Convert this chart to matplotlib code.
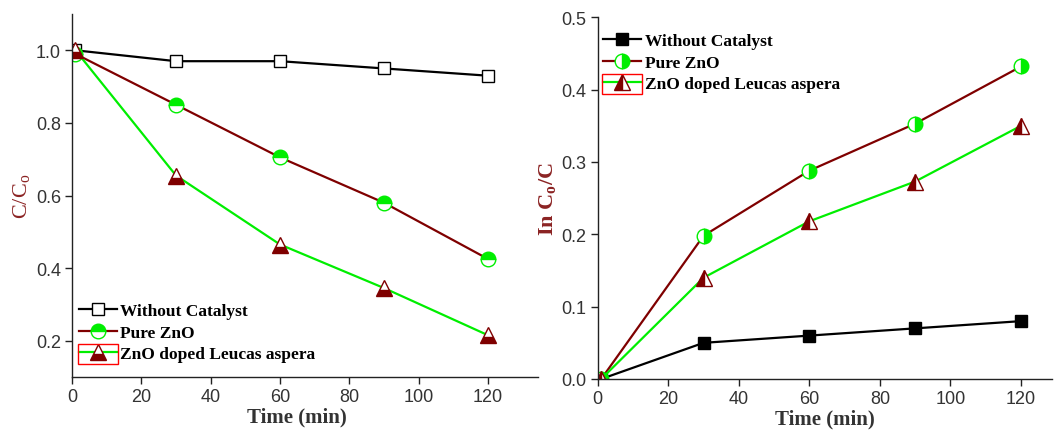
import matplotlib
matplotlib.use('Agg')
import matplotlib.pyplot as plt
import numpy as np
from matplotlib.patches import Rectangle

# time axis (min)
time = [1, 30, 60, 90, 120]

# C/C0
cc0_none = [1.0, 0.97, 0.97, 0.95, 0.93]
cc0_pure = [0.99, 0.85, 0.705, 0.58, 0.425]
cc0_doped = [1.0, 0.655, 0.465, 0.345, 0.215]

# ln C0/C
ln_none = [0.0, 0.05, 0.06, 0.07, 0.08]
ln_pure = [0.0, 0.198, 0.288, 0.353, 0.432]
ln_doped = [0.0, 0.14, 0.218, 0.273, 0.35]

labels = ['Without Catalyst', 'Pure ZnO', 'ZnO doped Leucas aspera']

DARKRED = '#7f0000'
GREEN = '#00ee00'
LABELRED = '#8b2323'
TXT = '#333333'

W, H = 1064, 431
fig = plt.figure(figsize=(W / 100, H / 100), dpi=100)

LEGEND_PROP = {'family': 'Liberation Serif', 'weight': 'bold', 'size': 12.5}


def style_axes(ax):
  for side in ('top', 'right'):
    ax.spines[side].set_visible(False)
  for side in ('left', 'bottom'):
    ax.spines[side].set_color('#222222')
    ax.spines[side].set_linewidth(1)
  ax.tick_params(direction='out', length=5, width=1, colors='#222222',
                 labelsize=13, labelcolor=TXT, pad=3)
  for lab in ax.get_xticklabels() + ax.get_yticklabels():
    lab.set_family('Liberation Sans')
  ax.set_xlabel('Time (min)', family='Liberation Serif', fontweight='bold',
                fontsize=15, color=TXT, labelpad=1)


# left panel (its x axis runs on a little past the plot area)
ax1 = fig.add_axes([72 / W, 1 - 378 / H, 466 / W, 363 / H])
ax1.plot(time, cc0_none, color='black', lw=1.6, marker='s', ms=9,
         mfc='white', mec='black', mew=1, label=labels[0])
ax1.plot(time, cc0_pure, color=DARKRED, lw=1.6, marker='o', ms=10.5,
         fillstyle='top', mfc=GREEN, mfcalt='white', mec=GREEN, mew=1,
         label=labels[1])
ax1.plot(time, cc0_doped, color=GREEN, lw=1.6, marker='^', ms=12,
         fillstyle='bottom', mfc=DARKRED, mfcalt='white', mec=DARKRED, mew=1,
         label=labels[2])
ax1.set_xlim(0, 134.4)
ax1.set_ylim(0.1, 1.1)
ax1.set_xticks([0, 20, 40, 60, 80, 100, 120])
ax1.set_yticks([0.2, 0.4, 0.6, 0.8, 1.0])
ax1.set_yticklabels(['0.2', '0.4', '0.6', '0.8', '1.0'])
style_axes(ax1)
ax1.xaxis.label.set_x(0.483)
ax1.set_ylabel('C/C$_\\mathregular{o}$', family='Liberation Serif',
               fontsize=16, color=LABELRED, labelpad=2)
leg1 = ax1.legend(loc='lower left', bbox_to_anchor=(-0.0116, 0.008), frameon=False,
                  handlelength=2.2, handletextpad=0.2, labelspacing=0.3,
                  borderaxespad=0.3, prop=LEGEND_PROP)

# right panel
ax2 = fig.add_axes([597.7 / W, 1 - 380 / H, 454 / W, 361.7 / H])
ax2.plot(time, ln_none, color='black', lw=1.6, marker='s', ms=9,
         mfc='black', mec='black', label=labels[0])
ax2.plot(time, ln_pure, color=DARKRED, lw=1.6, marker='o', ms=10.5,
         fillstyle='right', mfc=GREEN, mfcalt='white', mec=GREEN, mew=1,
         label=labels[1])
ax2.plot(time, ln_doped, color=GREEN, lw=1.6, marker='^', ms=12,
         fillstyle='left', mfc=DARKRED, mfcalt='white', mec=DARKRED, mew=1,
         label=labels[2])
ax2.set_xlim(0, 128.7)
ax2.set_ylim(0, 0.5)
ax2.set_xticks([0, 20, 40, 60, 80, 100, 120])
ax2.set_yticks([0.0, 0.1, 0.2, 0.3, 0.4, 0.5])
ax2.set_yticklabels(['0.0', '0.1', '0.2', '0.3', '0.4', '0.5'])
style_axes(ax2)
ax2.set_ylabel('In C$_\\mathregular{o}$/C', family='Liberation Serif',
               fontweight='bold', fontsize=16, color=LABELRED, labelpad=2)
leg2 = ax2.legend(loc='upper left', bbox_to_anchor=(-0.015, 0.99), frameon=False,
                  handlelength=2.2, handletextpad=0.2, labelspacing=0.3,
                  borderaxespad=0.3, prop=LEGEND_PROP)

# red box round the third legend handle, as in the source figure
fig.canvas.draw()
renderer = fig.canvas.get_renderer()
for leg in (leg1, leg2):
  h = leg.legend_handles[2]
  pts = h.get_transform().transform(np.column_stack([h.get_xdata(), h.get_ydata()]))
  x0, x1 = pts[:, 0].min(), pts[:, 0].max()
  t = leg.get_texts()[2].get_window_extent(renderer)
  yc = (t.y0 + t.y1) / 2
  fig.add_artist(Rectangle((x0 - 1, yc - 10), x1 - x0 + 2, 20,
                           transform=None, fill=False,
                           edgecolor='red', lw=1))

plt.savefig('out.png', dpi=100)
